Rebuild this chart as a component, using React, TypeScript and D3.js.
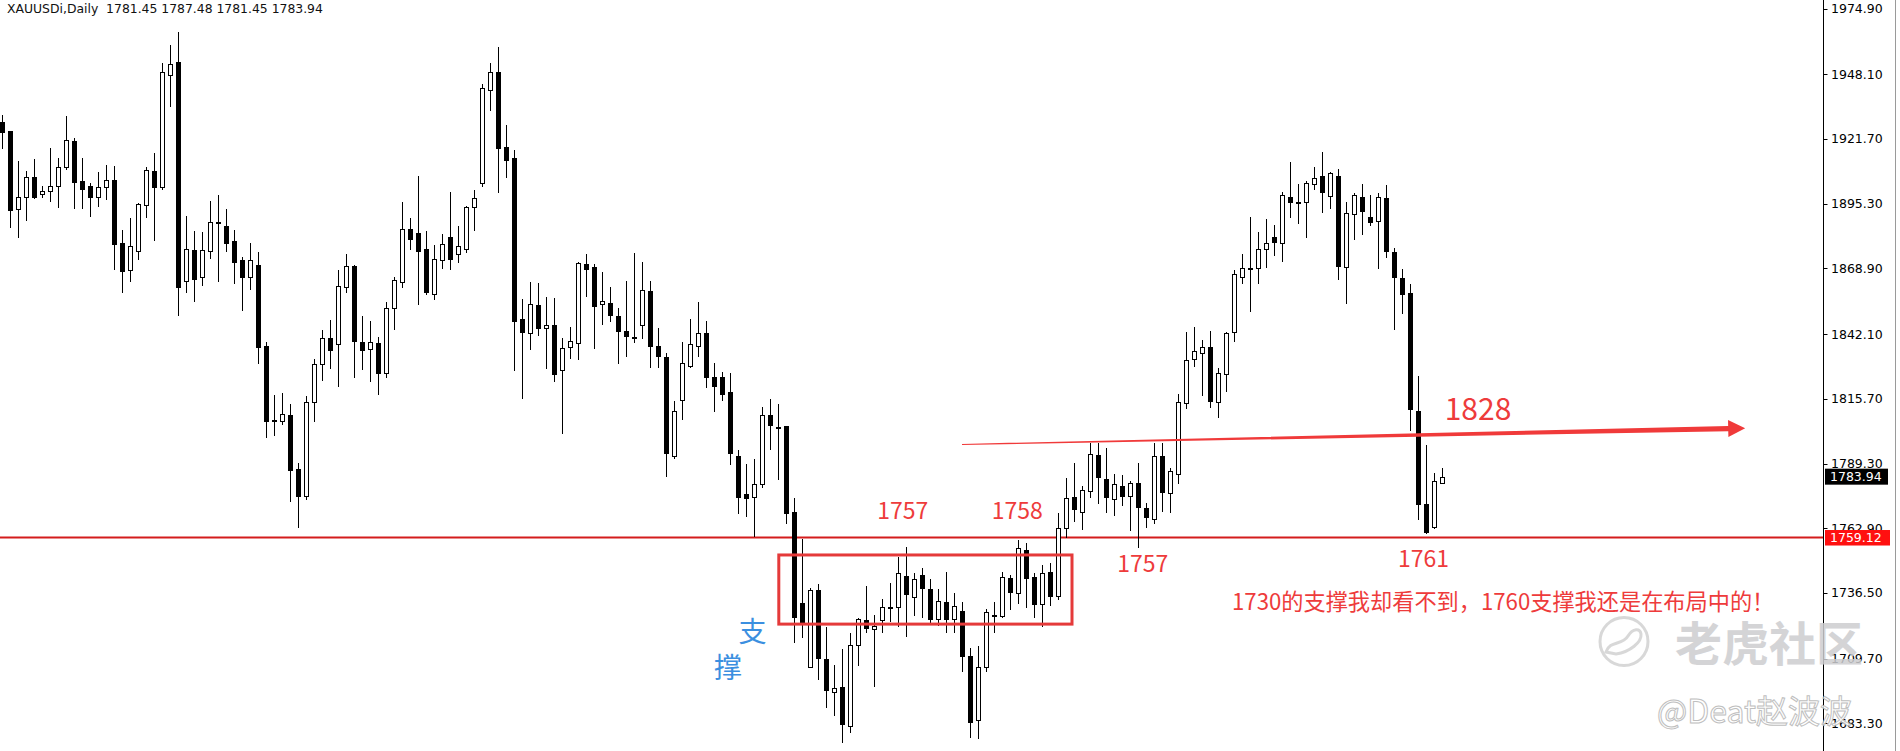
import React from "react";
import * as d3 from "d3";

// ---- data (XAUUSDi, Daily) ----
const opens = [
  1928.7, 1924.9, 1893.0, 1897.9, 1906.0, 1899.1, 1900.3, 1902.5, 1910.1, 1920.9,
  1904.4, 1902.5, 1898.1, 1902.0, 1904.8, 1879.1, 1868.1, 1875.9, 1894.6, 1908.5,
  1902.2, 1947.6, 1953.0, 1863.9, 1876.4, 1865.3, 1876.1, 1887.8, 1886.2, 1880.1,
  1872.3, 1865.3, 1870.3, 1837.2, 1806.9, 1806.5, 1809.1, 1787.1, 1776.2, 1814.3,
  1829.8, 1840.4, 1837.9, 1861.4, 1869.9, 1838.7, 1835.9, 1838.3, 1826.3, 1852.6,
  1863.5, 1884.8, 1883.2, 1876.8, 1858.3, 1872.3, 1881.7, 1874.6, 1876.9, 1893.8,
  1903.8, 1941.5, 1948.9, 1918.5, 1913.9, 1848.1, 1842.4, 1853.8, 1844.5, 1845.7,
  1827.3, 1836.9, 1838.6, 1870.7, 1869.3, 1854.5, 1854.6, 1849.5, 1843.2, 1841.1,
  1845.7, 1859.8, 1837.2, 1832.6, 1792.5, 1815.1, 1829.0, 1837.2, 1842.4, 1824.7,
  1824.5, 1818.3, 1792.4, 1776.9, 1775.5, 1780.8, 1809.0, 1804.4, 1804.6, 1769.4,
  1732.3, 1706.4, 1737.7, 1709.4, 1696.0, 1698.0, 1682.4, 1715.3, 1725.5, 1721.7,
  1725.5, 1730.9, 1730.6, 1743.5, 1734.7, 1743.8, 1738.0, 1725.8, 1732.9, 1725.8,
  1729.3, 1710.9, 1684.7, 1706.4, 1727.6, 1727.2, 1742.5, 1736.4, 1754.0, 1742.9,
  1731.9, 1744.9, 1735.4, 1762.9, 1775.8, 1769.4, 1777.9, 1792.8, 1782.9, 1774.7,
  1780.2, 1776.0, 1781.5, 1771.0, 1766.7, 1792.4, 1777.1, 1784.9, 1813.9, 1831.8,
  1834.3, 1836.7, 1814.5, 1825.7, 1842.8, 1865.3, 1869.0, 1868.9, 1876.7, 1881.6,
  1879.1, 1898.1, 1895.9, 1896.1, 1903.2, 1906.6, 1898.5, 1906.6, 1869.6, 1891.1,
  1898.1, 1890.0, 1888.2, 1897.5, 1875.7, 1864.8, 1858.7, 1810.8, 1772.7, 1763.5,
  1781.45,
];
const highs = [
  1931.5, 1924.9, 1912.7, 1908.6, 1913.5, 1902.5, 1918.0, 1913.9, 1931.0, 1922.0,
  1913.9, 1903.7, 1908.2, 1910.9, 1910.8, 1884.5, 1889.3, 1895.7, 1910.2, 1915.8,
  1952.8, 1960.0, 1965.2, 1890.3, 1884.3, 1883.7, 1896.4, 1898.9, 1893.1, 1884.4,
  1873.5, 1879.2, 1875.5, 1838.7, 1817.2, 1818.1, 1813.6, 1789.5, 1816.7, 1831.9,
  1843.8, 1847.8, 1868.2, 1874.8, 1870.3, 1849.6, 1847.4, 1840.9, 1855.2, 1865.2,
  1896.0, 1889.4, 1906.7, 1884.1, 1878.4, 1882.8, 1900.0, 1886.2, 1894.3, 1900.9,
  1944.0, 1952.8, 1959.3, 1927.4, 1917.2, 1856.3, 1863.3, 1862.8, 1857.3, 1856.9,
  1840.4, 1845.0, 1871.4, 1874.6, 1870.6, 1867.3, 1861.4, 1852.7, 1863.7, 1875.0,
  1871.5, 1863.7, 1844.7, 1834.3, 1814.8, 1838.7, 1848.2, 1855.3, 1847.4, 1830.4,
  1826.6, 1826.2, 1794.8, 1789.0, 1791.0, 1812.5, 1815.5, 1813.6, 1804.6, 1775.1,
  1758.5, 1738.4, 1740.2, 1722.7, 1707.1, 1713.5, 1720.0, 1726.2, 1739.3, 1727.5,
  1733.9, 1740.4, 1751.3, 1755.1, 1744.8, 1746.6, 1742.1, 1738.0, 1744.9, 1736.4,
  1732.7, 1713.9, 1714.9, 1729.8, 1732.9, 1744.9, 1743.8, 1758.1, 1756.8, 1744.5,
  1747.9, 1748.6, 1769.2, 1783.3, 1789.4, 1780.1, 1797.5, 1797.5, 1795.5, 1785.0,
  1784.6, 1782.2, 1789.6, 1773.1, 1797.5, 1797.5, 1787.6, 1817.5, 1842.8, 1844.9,
  1839.7, 1843.3, 1828.1, 1843.1, 1868.2, 1874.8, 1889.7, 1883.6, 1889.0, 1886.6,
  1899.9, 1912.2, 1903.3, 1904.7, 1910.1, 1916.2, 1908.3, 1909.3, 1895.8, 1899.5,
  1903.3, 1898.8, 1899.8, 1902.9, 1877.1, 1868.5, 1862.4, 1825.0, 1796.8, 1785.6,
  1787.48,
];
const lows = [
  1918.0, 1885.9, 1881.8, 1888.6, 1897.5, 1898.1, 1896.4, 1894.1, 1909.6, 1893.6,
  1893.6, 1890.4, 1894.5, 1897.3, 1868.8, 1859.4, 1863.9, 1872.7, 1890.0, 1880.5,
  1901.4, 1935.2, 1849.9, 1859.4, 1855.7, 1862.1, 1873.2, 1863.9, 1876.1, 1863.1,
  1852.0, 1860.4, 1830.4, 1800.0, 1800.9, 1805.3, 1773.9, 1763.5, 1774.8, 1806.6,
  1823.2, 1828.4, 1820.9, 1859.4, 1824.7, 1827.8, 1823.1, 1817.8, 1824.7, 1844.2,
  1861.4, 1876.9, 1854.4, 1858.4, 1856.3, 1868.9, 1868.5, 1871.4, 1875.5, 1884.5,
  1902.6, 1933.5, 1900.2, 1906.3, 1827.4, 1816.1, 1835.9, 1841.7, 1828.1, 1823.0,
  1801.6, 1832.5, 1831.8, 1857.6, 1836.5, 1846.2, 1847.4, 1830.4, 1833.2, 1839.0,
  1840.6, 1828.8, 1828.8, 1784.3, 1791.4, 1807.3, 1828.5, 1833.2, 1820.7, 1810.7,
  1815.4, 1789.0, 1769.0, 1767.9, 1759.7, 1779.8, 1795.1, 1782.9, 1764.9, 1716.6,
  1718.7, 1706.4, 1701.3, 1689.9, 1686.7, 1675.8, 1679.7, 1707.1, 1720.7, 1698.5,
  1720.7, 1725.2, 1723.0, 1718.9, 1727.5, 1726.6, 1724.7, 1723.4, 1720.7, 1720.7,
  1704.8, 1677.9, 1677.2, 1704.8, 1720.7, 1726.6, 1729.8, 1732.5, 1730.6, 1726.6,
  1723.0, 1731.6, 1733.9, 1759.4, 1766.0, 1762.6, 1775.8, 1773.1, 1769.4, 1768.3,
  1772.4, 1762.2, 1755.1, 1763.5, 1765.2, 1770.0, 1769.6, 1781.2, 1812.1, 1829.2,
  1817.2, 1812.5, 1808.1, 1819.0, 1839.3, 1862.8, 1851.6, 1863.1, 1869.6, 1874.4,
  1872.0, 1890.0, 1887.5, 1881.8, 1901.3, 1891.8, 1893.6, 1864.4, 1854.9, 1880.9,
  1882.9, 1886.6, 1869.2, 1873.7, 1844.0, 1850.8, 1803.0, 1766.7, 1760.8, 1762.9,
  1781.45,
];
const closes = [
  1924.6, 1892.7, 1897.9, 1906.0, 1898.1, 1900.3, 1902.5, 1910.1, 1921.3, 1904.2,
  1901.1, 1898.1, 1902.0, 1904.8, 1879.0, 1867.9, 1877.9, 1895.2, 1908.9, 1902.2,
  1948.9, 1952.3, 1861.4, 1876.7, 1864.7, 1876.4, 1887.8, 1887.6, 1879.4, 1871.6,
  1865.5, 1872.3, 1836.9, 1806.8, 1806.7, 1809.4, 1786.8, 1776.2, 1814.3, 1829.8,
  1840.4, 1835.6, 1861.7, 1869.9, 1839.4, 1835.6, 1838.7, 1826.3, 1852.6, 1864.2,
  1884.8, 1880.8, 1875.9, 1859.4, 1872.6, 1878.7, 1872.8, 1877.9, 1893.9, 1897.5,
  1942.3, 1949.1, 1918.1, 1913.0, 1847.6, 1842.8, 1854.2, 1844.5, 1845.7, 1825.7,
  1836.3, 1839.4, 1871.0, 1868.8, 1853.7, 1855.5, 1850.0, 1843.5, 1841.4, 1841.0,
  1860.0, 1837.4, 1833.3, 1793.5, 1810.7, 1830.2, 1837.9, 1842.7, 1824.7, 1820.8,
  1817.5, 1793.7, 1775.5, 1775.1, 1781.1, 1809.0, 1805.0, 1804.3, 1769.2, 1726.6,
  1724.5, 1737.7, 1710.1, 1696.9, 1697.6, 1682.9, 1715.3, 1725.8, 1722.3, 1723.1,
  1730.9, 1730.8, 1744.5, 1736.0, 1742.1, 1738.4, 1726.0, 1733.3, 1725.8, 1731.1,
  1710.9, 1684.0, 1706.4, 1728.9, 1727.5, 1742.9, 1737.0, 1754.7, 1742.5, 1732.0,
  1744.5, 1735.4, 1762.9, 1775.1, 1770.6, 1778.5, 1793.1, 1783.6, 1775.5, 1780.8,
  1776.0, 1781.5, 1771.4, 1767.6, 1792.4, 1777.8, 1786.2, 1814.3, 1831.5, 1835.2,
  1836.9, 1814.9, 1826.1, 1842.7, 1866.5, 1868.9, 1868.9, 1876.7, 1879.1, 1879.8,
  1898.8, 1896.1, 1895.8, 1903.6, 1905.6, 1899.9, 1907.7, 1870.0, 1891.4, 1898.8,
  1892.4, 1887.9, 1897.9, 1876.1, 1865.5, 1858.3, 1811.4, 1772.7, 1761.5, 1782.3,
  1783.94,
];

const yTicks = [1974.9, 1948.1, 1921.7, 1895.3, 1868.9, 1842.1, 1815.7, 1789.3, 1762.9, 1736.5, 1709.7, 1683.3];
const headerText = "XAUUSDi,Daily  1781.45 1787.48 1781.45 1783.94";
const lastPrice = 1783.94;
const lineLevel = 1759.12;

// annotation anchors (bar index, price)
const boxRange = { i0: 97.1, i1: 133.75, pTop: 1752.0, pBot: 1723.8 };
const redLabels = [
  { text: "1757", i: 112.6, p: 1766.6 },
  { text: "1758", i: 126.9, p: 1766.6 },
  { text: "1757", i: 142.6, p: 1745.2 },
  { text: "1761", i: 177.7, p: 1747.2 },
];
const bigLabel = { text: "1828", i: 184.5, p: 1807.0 };
const arrowFrom = { i: 120, p: 1797.1 };
const arrowTo = { i: 217.9, p: 1803.7 };
const noteText = "1730的支撑我却看不到，1760支撑我还是在布局中的！";
const noteAnchor = { i: 153.75, p: 1733.6 };
const blueChars = [
  { text: "支", i: 93.8, p: 1721.6 },
  { text: "撑", i: 90.75, p: 1706.7 },
];

const W = 1900;
const H = 751;
const AXIS_X = 1823.5;
const ANN_RED = "#ee3b3b";

export default function App() {
  const idx = d3.range(opens.length);
  const x = d3.scaleLinear().domain([0, 180]).range([2, 1442]);
  const y = d3.scaleLinear().domain([1683.3, 1974.9]).range([723.4, 8.5]);

  // arrow polygon
  const ax0 = x(arrowFrom.i), ay0 = y(arrowFrom.p);
  const ax1 = x(arrowTo.i), ay1 = y(arrowTo.p);
  const len = Math.hypot(ax1 - ax0, ay1 - ay0);
  const ux = (ax1 - ax0) / len, uy = (ay1 - ay0) / len;
  const nx = -uy, ny = ux;
  const headLen = 17, headHalf = 8.5, shaftEnd = 2.6, shaftStart = 0.5;
  const bx = ax1 - ux * headLen, by = ay1 - uy * headLen;
  const arrowPts = [
    [ax0 + nx * shaftStart, ay0 + ny * shaftStart],
    [bx + nx * shaftEnd, by + ny * shaftEnd],
    [bx + nx * headHalf, by + ny * headHalf],
    [ax1, ay1],
    [bx - nx * headHalf, by - ny * headHalf],
    [bx - nx * shaftEnd, by - ny * shaftEnd],
    [ax0 - nx * shaftStart, ay0 - ny * shaftStart],
  ];
  const arrowPath = d3.line()(arrowPts as [number, number][]) + "Z";

  const cjk = "'Noto Sans CJK SC', 'Noto Sans', sans-serif";
  const mt = "'DejaVu Sans', Verdana, sans-serif";

  return (
    <svg
      width={W}
      height={H}
      style={{ position: "absolute", left: 0, top: 0, background: "#fff" }}
    >
      <rect x={0} y={0} width={W} height={H} fill="#fff" />

      {/* header */}
      <text x={7} y={13} fontFamily={mt} fontSize={12.4} fill="#111">
        {headerText.replace(/ /g, "\u00a0")}
      </text>

      {/* support line */}
      <line x1={0} x2={AXIS_X} y1={y(lineLevel)} y2={y(lineLevel)} stroke="#d41c1c" strokeWidth={1.8} />

      {/* candles */}
      <g>
        {idx.map((i) => {
          const o = opens[i], c = closes[i], h = highs[i], l = lows[i];
          const cx = Math.round(x(i));
          const bear = c < o;
          const yt = Math.round(y(Math.max(o, c)));
          const yb = Math.round(y(Math.min(o, c)));
          const bh = Math.max(yb - yt, 1);
          return (
            <g key={i}>
              <line
                x1={cx + 0.5}
                x2={cx + 0.5}
                y1={Math.round(y(h))}
                y2={Math.round(y(l)) + 1}
                stroke="#000"
                strokeWidth={1}
              />
              <rect
                x={cx - 1.5}
                y={yt + 0.5}
                width={4}
                height={bh}
                fill={bear ? "#000" : "#fff"}
                stroke="#000"
                strokeWidth={1}
              />
            </g>
          );
        })}
      </g>

      {/* annotations */}
      <rect
        x={x(boxRange.i0)}
        y={y(boxRange.pTop)}
        width={x(boxRange.i1) - x(boxRange.i0)}
        height={y(boxRange.pBot) - y(boxRange.pTop)}
        fill="none"
        stroke="#e53a3a"
        strokeWidth={3}
      />
      {redLabels.map((d, k) => (
        <text key={k} x={x(d.i)} y={y(d.p)} textAnchor="middle" fontFamily={cjk} fontSize={23} fill={ANN_RED}>
          {d.text}
        </text>
      ))}
      <text x={x(bigLabel.i)} y={y(bigLabel.p)} textAnchor="middle" fontFamily={cjk} fontSize={30} fill={ANN_RED}>
        {bigLabel.text}
      </text>
      <path d={arrowPath} fill="#f03a3a" />
      <text x={x(noteAnchor.i)} y={y(noteAnchor.p)} dominantBaseline="central" fontFamily={cjk} fontSize={22.2} fill={ANN_RED}>
        {noteText}
      </text>
      {blueChars.map((d, k) => (
        <text key={k} x={x(d.i)} y={y(d.p)} textAnchor="middle" dominantBaseline="central" fontFamily={cjk} fontSize={28} fill="#3b8fe0">
          {d.text}
        </text>
      ))}

      {/* price axis */}
      <line x1={AXIS_X} x2={AXIS_X} y1={0} y2={H} stroke="#000" strokeWidth={1} />
      {yTicks.map((t) => (
        <g key={t}>
          <line x1={AXIS_X} x2={AXIS_X + 4} y1={Math.round(y(t)) + 0.5} y2={Math.round(y(t)) + 0.5} stroke="#000" />
          <text x={1831} y={y(t)} dominantBaseline="central" fontFamily={mt} fontSize={12.5} fill="#000">
            {t.toFixed(2)}
          </text>
        </g>
      ))}
      <rect x={AXIS_X + 1.5} y={y(lastPrice) - 8} width={63} height={16} fill="#000" />
      <text x={1830} y={y(lastPrice)} dominantBaseline="central" fontFamily={mt} fontSize={12.5} fill="#fff">
        {lastPrice.toFixed(2)}
      </text>
      <rect x={AXIS_X + 1.5} y={y(lineLevel) - 7.5} width={65} height={15.5} fill="#ff1010" />
      <text x={1830} y={y(lineLevel)} dominantBaseline="central" fontFamily={mt} fontSize={12.5} fill="#fff">
        {lineLevel.toFixed(2)}
      </text>
      <line x1={1895.5} x2={1895.5} y1={0} y2={H} stroke="#9a9a9a" strokeWidth={1} />

      {/* watermark */}
      <g opacity={0.85}>
        <circle cx={1624} cy={641.5} r={24} fill="none" stroke="#d2d2d2" strokeWidth={3} />
        <path
          d="M1606,652 C1610,640 1622,646 1628,636 C1633,628 1640,628 1641,634 C1642,642 1630,652 1616,654 Z"
          fill="none"
          stroke="#d2d2d2"
          strokeWidth={3}
        />
        <text x={1675} y={640} dominantBaseline="central" fontFamily={cjk} fontWeight={700} fontSize={47} fill="#cdcdd0">
          老虎社区
        </text>
        <text x={1657} y={709} dominantBaseline="central" fontFamily={cjk} fontSize={32} fill="#ffffff" stroke="#b4b4b4" strokeWidth={1}>
          @Deat赵波波
        </text>
      </g>
    </svg>
  );
}
